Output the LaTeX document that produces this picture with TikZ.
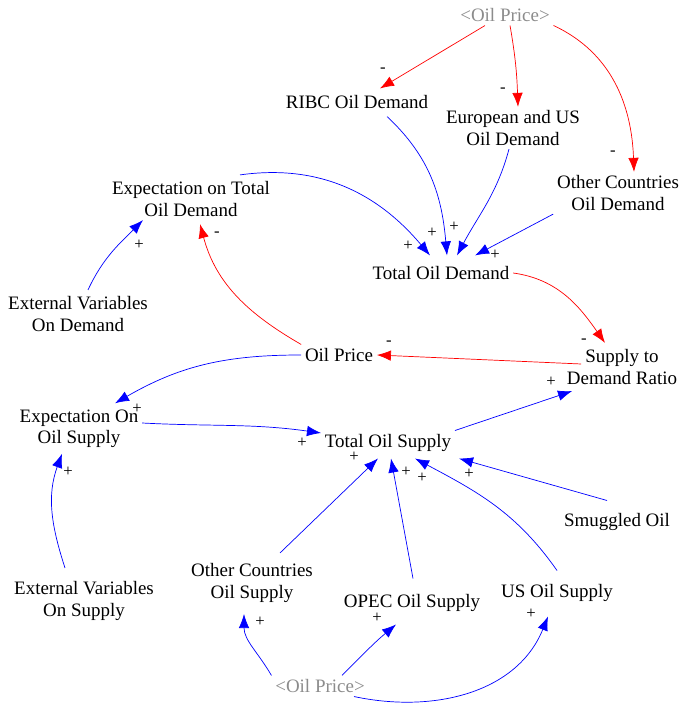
\documentclass[tikz,border=0pt]{standalone}
\usepackage{fontspec}
\setmainfont{Liberation Serif}
\usetikzlibrary{arrows.meta}

\begin{document}
\begin{tikzpicture}[x=0.02cm,y=0.02cm,
    var/.style={align=center,inner sep=2pt,font=\fontsize{10.8}{12}\selectfont},
    shadowvar/.style={var,text=black!45},
    sgn/.style={inner sep=0pt,font=\fontsize{9.5}{10}\selectfont},
    poslink/.style={draw=blue,line width=0.4pt,-{Latex[length=8pt,width=6pt]}},
    neglink/.style={draw=red,line width=0.4pt,-{Latex[length=8pt,width=6pt]}}]
\useasboundingbox (0,0) rectangle (681,706);

\node[shadowvar] (op1) at (505,691) {<Oil Price>};
\node[var] (ribc) at (357,604) {RIBC Oil Demand};
\node[var] (eus) at (513,578) {European and US\\Oil Demand};
\node[var] (ocd) at (618,513) {Other Countries\\Oil Demand};
\node[var] (etd) at (191,507) {Expectation on Total\\Oil Demand};
\node[var] (tod) at (441,433) {Total Oil Demand};
\node[var] (evd) at (78,392) {External Variables\\On Demand};
\node[var] (oilp) at (339,351) {Oil Price};
\node[var] (sdr) at (622,339) {Supply to\\Demand Ratio};
\node[var] (eos) at (79,277) {Expectation On\\Oil Supply};
\node[var] (tos) at (388,263) {Total Oil Supply};
\node[var] (smug) at (617,184) {Smuggled Oil};
\node[var] (evs) at (84,105) {External Variables\\On Supply};
\node[var] (ocs) at (252,123) {Other Countries\\Oil Supply};
\node[var] (opec) at (412,103) {OPEC Oil Supply};
\node[var] (us) at (557,113) {US Oil Supply};
\node[shadowvar] (op2) at (320,20) {<Oil Price>};

\draw[neglink] ([shift={(-20,0)}]op1.south) -- ([shift={(23,3)}]ribc.north);
\draw[neglink] ([shift={(5,0)}]op1.south) to[out=-80,in=92] ([shift={(5,0)}]eus.north);
\draw[neglink] (op1.south east) to[out=-25,in=92] ([shift={(16,0)}]ocd.north);
\draw[neglink] (tod.east) to[out=-8,in=125] ([shift={(-17,3)}]sdr.north);
\draw[neglink] ([shift={(18,3)}]sdr.west) -- (oilp.east);
\draw[neglink] (oilp.north west) to[out=150,in=-75] ([shift={(9,-4)}]etd.south);

\draw[poslink] ([shift={(30,-4)}]ribc.south) to[out=-43,in=95] ([shift={(6,7)}]tod.north);
\draw[poslink] ([shift={(-4,0)}]eus.south) to[out=-105,in=62] ([shift={(16,7)}]tod.north);
\draw[poslink] (ocd.south west) -- ([shift={(34,7)}]tod.north);
\draw[poslink] ([shift={(49,3)}]etd.north) to[out=8,in=130] ([shift={(-11,7)}]tod.north);
\draw[poslink] ([shift={(10,3)}]evd.north) to[out=65,in=-135] ([shift={(-48,0)}]etd.south);
\draw[poslink] (oilp.west) to[out=180,in=30] ([shift={(36,3)}]eos.north);
\draw[poslink] ([shift={(0,6)}]eos.east) to[out=-3,in=172] ([shift={(0,10)}]tos.west);
\draw[poslink] (tos.north east) -- ([shift={(9,-3)}]sdr.south west);
\draw[poslink] ([shift={(-19,10)}]evs.north) to[out=108,in=-110] ([shift={(-17,-2)}]eos.south);
\draw[poslink] ([shift={(28,7)}]ocs.north) -- ([shift={(-10,-3)}]tos.south);
\draw[poslink] ([shift={(1,12)}]opec.north) -- ([shift={(3,-3)}]tos.south);
\draw[poslink] ([shift={(0,10)}]us.north) to[out=125,in=-28] ([shift={(27,-3)}]tos.south);
\draw[poslink] ([shift={(-10,9)}]smug.north) -- ([shift={(4,-3)}]tos.south east);
\draw[poslink] (op2.north west) to[out=120,in=-90] ([shift={(-8,-8)}]ocs.south);
\draw[poslink] ([shift={(22,0)}]op2.north) to[out=45,in=-140] ([shift={(-16,-9)}]opec.south);
\draw[poslink] ([shift={(34,0)}]op2.south) to[out=-12,in=-112] ([shift={(-9,-11)}]us.south);

\node[sgn] (m1) at (383,636) {-};
\node[sgn] (m2) at (503,616) {-};
\node[sgn] (m3) at (613,553) {-};
\node[sgn] (m4) at (584,365) {-};
\node[sgn] (m5) at (389,363) {-};
\node[sgn] (m6) at (217,472) {-};
\node[sgn] (p1) at (408,460) {+};
\node[sgn] (p2) at (432,473) {+};
\node[sgn] (p3) at (454,479) {+};
\node[sgn] (p4) at (495,451) {+};
\node[sgn] (p5) at (139,461) {+};
\node[sgn] (p6) at (137,297) {+};
\node[sgn] (p7) at (302,263) {+};
\node[sgn] (p8) at (551,324) {+};
\node[sgn] (p9) at (68,234) {+};
\node[sgn] (p10) at (354,249) {+};
\node[sgn] (p11) at (406,234) {+};
\node[sgn] (p12) at (422,228) {+};
\node[sgn] (p13) at (469,232) {+};
\node[sgn] (p14) at (260,84) {+};
\node[sgn] (p15) at (377,88) {+};
\node[sgn] (p16) at (531,92) {+};
\end{tikzpicture}
\end{document}
